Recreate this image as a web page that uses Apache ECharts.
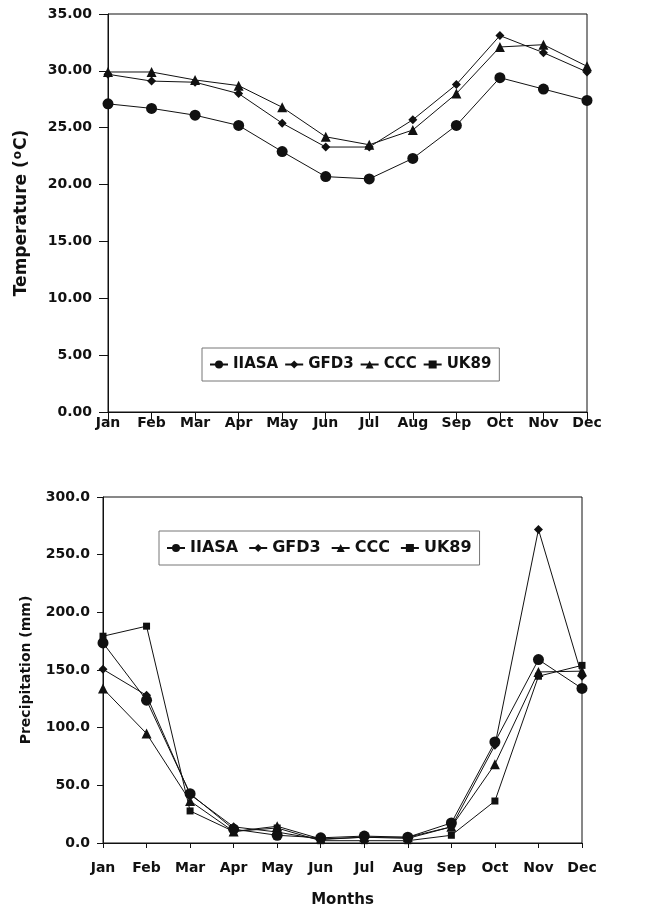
<!DOCTYPE html>
<html>
<head>
<meta charset="utf-8">
<script src="https://cdn.jsdelivr.net/npm/echarts@6/dist/echarts.min.js"></script>
<style>html,body{margin:0;padding:0;background:#fff;}#c{width:652px;height:909px;}</style>
</head>
<body>
<div id="c"></div>
<script>
const months = ['Jan','Feb','Mar','Apr','May','Jun','Jul','Aug','Sep','Oct','Nov','Dec'];
const seriesNames = ['IIASA','GFD3','CCC','UK89'];

// Temperature (°C)
const tempIIASA = [27.1, 26.7, 26.1, 25.2, 22.9, 20.7, 20.5, 22.3, 25.2, 29.4, 28.4, 27.4];
const tempGFD3  = [29.7, 29.1, 29.0, 28.0, 25.4, 23.3, 23.3, 25.7, 28.8, 33.1, 31.6, 29.9];
const tempCCC   = [29.9, 29.9, 29.2, 28.7, 26.8, 24.2, 23.5, 24.8, 28.0, 32.1, 32.3, 30.4];
const tempUK89  = [null, null, null, null, null, null, null, null, null, null, null, null];

// Precipitation (mm)
const precIIASA = [173.5, 123.8, 42.8, 12.0, 6.7, 4.5, 6.0, 5.0, 17.4, 87.6, 159.0, 134.0];
const precGFD3  = [150.6, 128.0, 42.0, 14.0, 9.5, 3.0, 5.0, 4.0, 14.0, 84.7, 271.8, 144.6];
const precCCC   = [133.9, 94.9, 36.4, 10.0, 14.5, 3.5, 5.0, 5.0, 14.0, 68.3, 148.3, 149.0];
const precUK89  = [179.3, 188.0, 27.8, 10.0, 13.0, 2.0, 2.0, 2.0, 6.7, 36.4, 144.6, 154.0];

const tempTicks = {min: 0, max: 35, interval: 5};
const precTicks = {min: 0, max: 300, interval: 50};

const FONT = '"DejaVu Sans", "Liberation Sans", Arial, sans-serif';
const INK = '#111';
const symbols = {IIASA: ['circle', 11], GFD3: ['diamond', 9], CCC: ['triangle', 10], UK89: ['rect', 7]};

function mkSeries(name, data, idx) {
  return {
    name: name, type: 'line', data: data,
    xAxisIndex: idx, yAxisIndex: idx,
    symbol: symbols[name][0], symbolSize: symbols[name][1],
    showSymbol: true, connectNulls: false,
    lineStyle: {color: INK, width: 1},
    itemStyle: {color: INK},
    animation: false
  };
}

function xAx(idx, tickLen, margin) {
  return {
    type: 'category', gridIndex: idx, data: months, boundaryGap: false,
    axisLine: {lineStyle: {color: INK, width: 1}},
    axisTick: {show: true, length: tickLen, inside: false, lineStyle: {color: INK}},
    axisLabel: {color: INK, fontFamily: FONT, fontSize: 14, fontWeight: 'bold', margin: margin},
    splitLine: {show: false}
  };
}

function legendAt(left, top, gap, fs) {
  return {
    data: seriesNames,
    orient: 'horizontal',
    left: left, top: top, padding: [9, 8, 9, 7],
    borderColor: '#777', borderWidth: 1,
    backgroundColor: '#fff',
    itemWidth: 18, itemHeight: 10, itemGap: gap,
    textStyle: {color: INK, fontFamily: FONT, fontSize: fs, fontWeight: 'bold'},
    selectedMode: false
  };
}

const option = {
  backgroundColor: '#fff',
  animation: false,
  grid: [
    {left: 108, top: 14, width: 479, height: 398, show: true, borderColor: INK, borderWidth: 1, backgroundColor: 'transparent'},
    {left: 103, top: 497, width: 479, height: 346, show: true, borderColor: INK, borderWidth: 1, backgroundColor: 'transparent'}
  ],
  legend: [
    legendAt(202, 348, 6, 15),
    legendAt(159, 531, 10, 16)
  ],
  xAxis: [
    xAx(0, 8, 4),
    Object.assign(xAx(1, 5, 18), {name: 'Months', nameLocation: 'middle', nameGap: 50,
      nameTextStyle: {color: INK, fontFamily: FONT, fontSize: 15, fontWeight: 'bold'}})
  ],
  yAxis: [
    {
      type: 'value', gridIndex: 0, min: tempTicks.min, max: tempTicks.max, interval: tempTicks.interval,
      name: '{n|Temperature (}{s|o}{n|C)}', nameLocation: 'middle', nameGap: 77, nameRotate: 90,
      nameTextStyle: {rich: {
        n: {color: INK, fontFamily: FONT, fontSize: 17, fontWeight: 'bold'},
        s: {color: INK, fontFamily: FONT, fontSize: 12, fontWeight: 'bold', verticalAlign: 'top', padding: [0, 1, 7, 1]}
      }},
      axisLine: {show: true, lineStyle: {color: INK}},
      axisTick: {show: true, length: 9, lineStyle: {color: INK}},
      axisLabel: {color: INK, fontFamily: FONT, fontSize: 14, fontWeight: 'bold', margin: 16,
        formatter: v => v.toFixed(2)},
      splitLine: {show: false}
    },
    {
      type: 'value', gridIndex: 1, min: precTicks.min, max: precTicks.max, interval: precTicks.interval,
      name: 'Precipitation (mm)', nameLocation: 'middle', nameGap: 70, nameRotate: 90,
      nameTextStyle: {color: INK, fontFamily: FONT, fontSize: 14, fontWeight: 'bold'},
      axisLine: {show: true, lineStyle: {color: INK}},
      axisTick: {show: true, length: 6, lineStyle: {color: INK}},
      axisLabel: {color: INK, fontFamily: FONT, fontSize: 14, fontWeight: 'bold', margin: 13,
        formatter: v => v.toFixed(1)},
      splitLine: {show: false}
    }
  ],
  series: [
    mkSeries('IIASA', tempIIASA, 0),
    mkSeries('GFD3', tempGFD3, 0),
    mkSeries('CCC', tempCCC, 0),
    mkSeries('UK89', tempUK89, 0),
    mkSeries('IIASA', precIIASA, 1),
    mkSeries('GFD3', precGFD3, 1),
    mkSeries('CCC', precCCC, 1),
    mkSeries('UK89', precUK89, 1)
  ]
};

const chart = echarts.init(document.getElementById('c'), null, {renderer: 'canvas'});
chart.setOption(option);
</script>
</body>
</html>
